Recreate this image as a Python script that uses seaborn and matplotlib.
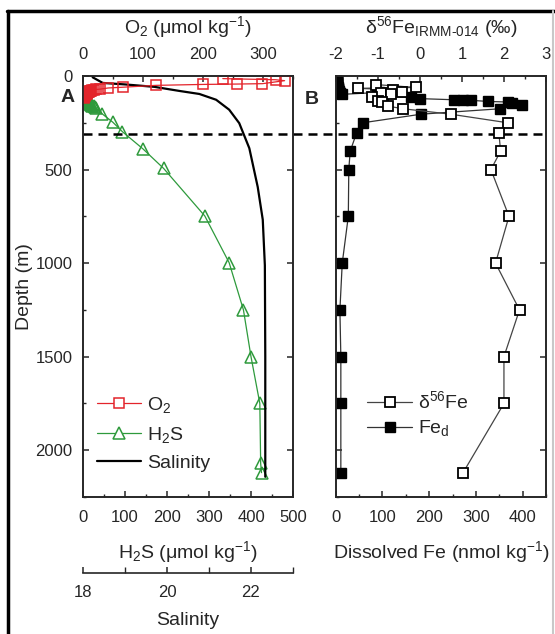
import matplotlib
matplotlib.use("Agg")
import matplotlib.pyplot as plt
import matplotlib.transforms as mtransforms
from matplotlib.lines import Line2D
from matplotlib.ticker import MultipleLocator
import seaborn as sns

# ---------------- data ----------------
o2_depth = [14, 20, 25, 41, 43, 45, 50, 60, 64, 70, 72, 74, 76, 78, 80, 82, 84, 86, 88, 90, 92, 94, 96, 98,
            100, 102, 104, 106, 108, 110, 112, 114, 116]
o2_vals = [233, 321, 336, 299, 257, 200, 122, 66, 42, 29, 22, 18, 15, 13, 12, 11, 10, 9, 8, 7, 7, 6, 5, 5,
           4, 4, 3, 3, 2, 2, 2, 1, 1]

h2s_depth = [100, 103, 106, 109, 112, 115, 118, 121, 124, 127, 130, 133, 136, 139, 142, 145, 148, 151, 155, 159,
             163, 168, 173, 203, 247, 298, 390, 494, 748, 998, 1250, 1500, 1750, 2070, 2120]
h2s_vals = [0.5, 1, 1.5, 2, 3, 4, 5, 6, 7, 8, 9, 10, 11, 12, 13, 14, 16, 18, 20, 22,
            25, 28, 32, 46, 71, 94, 143, 192, 290, 348, 382, 400, 421, 423, 425]

sal_depth = [7, 37, 45, 58, 80, 96, 127, 180, 252, 386, 593, 768, 1012, 1500, 2142]
sal_vals = [18.23, 18.47, 19.0, 19.7, 20.3, 20.77, 21.17, 21.48, 21.72, 21.96, 22.16, 22.28, 22.33, 22.34, 22.34]

fe_depth = [2, 7, 12, 17, 22, 27, 32, 37, 42, 47, 52, 57, 62, 67, 72, 77, 82, 87, 92, 98, 88, 95, 102, 108,
            114, 121, 127, 128, 130, 136, 139, 143, 154, 175, 204, 250, 302, 402, 500, 750, 1000, 1250, 1500,
            1750, 2123]
fe_vals = [2, 2, 2, 2, 2, 3, 3, 3, 3, 3, 3, 4, 4, 4, 4, 5, 6, 7, 9, 13, 92, 98, 88, 102,
           162, 181, 253, 272, 290, 326, 368, 378, 398, 352, 183, 58, 45, 31, 28, 27, 14, 9, 11,
           11, 11]

d56_depth = [46, 61, 66, 73, 86, 91, 96, 114, 136, 141, 161, 175, 204, 250, 304, 402, 500, 750, 1000,
             1250, 1500, 1750, 2123]
d56_vals = [-1.04, -0.10, -1.48, -0.63, -0.42, -0.92, -0.68, -1.14, -1.0, -0.9, -0.76, -0.40, 0.73, 2.09,
            1.88, 1.92, 1.69, 2.12, 1.80, 2.37, 2.0, 2.0, 1.02]

chemocline_depth = 310

depth_ticks = [0, 500, 1000, 1500, 2000]
h2s_ticks = [0, 100, 200, 300, 400, 500]
o2_ticks = [0, 100, 200, 300]
sal_ticks = [18, 20, 22]
fe_ticks = [0, 100, 200, 300, 400]
d56_ticks = [-2, -1, 0, 1, 2, 3]

# ---------------- style ----------------
sns.set_theme(style="ticks")
plt.rcParams["font.family"] = ["Liberation Sans", "DejaVu Sans"]
plt.rcParams["mathtext.fontset"] = "custom"
plt.rcParams["mathtext.rm"] = "Liberation Sans"
plt.rcParams["mathtext.it"] = "Liberation Sans:italic"
plt.rcParams["mathtext.bf"] = "Liberation Sans:bold"
plt.rcParams["axes.linewidth"] = 1.2
plt.rcParams["axes.unicode_minus"] = False

RED = "#e3242b"
GREEN = "#2e9a3c"
TICK_FS = 12
LAB_FS = 14

W, H = 555, 634
fig = plt.figure(figsize=(W / 100, H / 100), dpi=100)
fig.patch.set_facecolor("white")

axA = fig.add_axes([83 / W, 1 - 497 / H, 210 / W, 421 / H])
axB = fig.add_axes([335.7 / W, 1 - 497 / H, 210.3 / W, 421 / H])
axA_sal = axA.twiny()
axA_top = axA.twiny()
axB_top = axB.twiny()

for ax in (axA, axB, axA_sal, axA_top, axB_top):
    ax.set_facecolor("none")


def style_ticks(ax, axis, pad):
    ax.tick_params(axis=axis, which="both", direction="in", labelsize=TICK_FS, pad=pad)
    ax.tick_params(axis=axis, which="major", length=4.5, width=1.1)
    ax.tick_params(axis=axis, which="minor", length=2.5, width=1.0)


# ---------------- panel A ----------------
sns.lineplot(x=h2s_vals, y=h2s_depth, ax=axA, sort=False, estimator=None, color=GREEN, lw=0.9,
             marker="^", markersize=8, markerfacecolor="none", markeredgecolor=GREEN, markeredgewidth=1.1)
sns.lineplot(x=sal_vals, y=sal_depth, ax=axA_sal, sort=False, estimator=None, color="black", lw=1.6)
sns.lineplot(x=o2_vals, y=o2_depth, ax=axA_top, sort=False, estimator=None, color=RED, lw=0.9,
             marker="s", markersize=6.5, markerfacecolor="none", markeredgecolor=RED, markeredgewidth=1.1)

axA.set_xlim(0, 500)
axA.set_ylim(2250, 0)
axA_top.set_xlim(0, 350)
axA_sal.set_xlim(18, 23)

axA.set_xticks(h2s_ticks)
axA.xaxis.set_minor_locator(MultipleLocator(50))
axA.set_yticks(depth_ticks)
axA.yaxis.set_minor_locator(MultipleLocator(250))
axA.tick_params(top=False, right=True)
style_ticks(axA, "x", 9.5)
style_ticks(axA, "y", 7.5)
axA.set_xlabel("H$_2$S (μmol kg$^{-1}$)", fontsize=LAB_FS, labelpad=10)
axA.set_ylabel("Depth (m)", fontsize=LAB_FS, labelpad=2)

axA_top.set_xticks(o2_ticks)
axA_top.xaxis.set_minor_locator(MultipleLocator(50))
style_ticks(axA_top, "x", 10)
axA_top.set_xlabel("O$_2$ (μmol kg$^{-1}$)", fontsize=LAB_FS, labelpad=10)
axA_top.set_ylabel("")

axA_sal.xaxis.set_ticks_position("bottom")
axA_sal.xaxis.set_label_position("bottom")
axA_sal.spines["bottom"].set_position(("outward", 76 * 0.72))
for s in ("top", "left", "right"):
    axA_sal.spines[s].set_visible(False)
axA_sal.set_xticks(sal_ticks)
axA_sal.xaxis.set_minor_locator(MultipleLocator(1))
style_ticks(axA_sal, "x", 8.5)
axA_sal.tick_params(which="minor", length=4.5)
axA_sal.set_xlabel("Salinity", fontsize=LAB_FS, labelpad=9)
axA_sal.set_ylabel("")

handlesA = [
    Line2D([], [], color=RED, lw=0.9, marker="s", markersize=6.5, markerfacecolor="white",
           markeredgecolor=RED, markeredgewidth=1.1, label="O$_2$"),
    Line2D([], [], color=GREEN, lw=0.9, marker="^", markersize=8, markerfacecolor="white",
           markeredgecolor=GREEN, markeredgewidth=1.1, label="H$_2$S"),
    Line2D([], [], color="black", lw=1.6, label="Salinity"),
]
axA_top.legend(handles=handlesA, loc="upper left", bbox_to_anchor=(0.0, 0.275), frameon=False,
               fontsize=LAB_FS, handlelength=2.3, handletextpad=0.3, labelspacing=0.5, borderaxespad=0.3)

# ---------------- panel B ----------------
sns.lineplot(x=fe_vals, y=fe_depth, ax=axB, sort=False, estimator=None, color="#333333", lw=0.9,
             marker="s", markersize=7, markerfacecolor="black", markeredgecolor="black", markeredgewidth=1.0)
sns.lineplot(x=d56_vals, y=d56_depth, ax=axB_top, sort=False, estimator=None, color="#444444", lw=0.9,
             marker="s", markersize=7.5, markerfacecolor="white", markeredgecolor="black", markeredgewidth=1.3)

axB.set_xlim(0, 450)
axB.set_ylim(2250, 0)
axB_top.set_xlim(-2, 3)
axB.set_xticks(fe_ticks)
axB.xaxis.set_minor_locator(MultipleLocator(50))
axB.set_yticks(depth_ticks)
axB.yaxis.set_minor_locator(MultipleLocator(250))
axB.tick_params(top=False, right=True, labelleft=False)
style_ticks(axB, "x", 9.5)
style_ticks(axB, "y", 7.5)
axB.tick_params(labelleft=False)
axB.set_xlabel("Dissolved Fe (nmol kg$^{-1}$)", fontsize=LAB_FS, labelpad=10)
axB.set_ylabel("")

axB_top.set_xticks(d56_ticks)
axB_top.xaxis.set_minor_locator(MultipleLocator(0.5))
style_ticks(axB_top, "x", 10)
axB_top.set_xlabel("δ$^{56}$Fe$_{\\mathrm{IRMM\\text{-}014}}$ (‰)", fontsize=LAB_FS, labelpad=10)
axB_top.set_ylabel("")

handlesB = [
    Line2D([], [], color="#444444", lw=0.9, marker="s", markersize=7.5, markerfacecolor="white",
           markeredgecolor="black", markeredgewidth=1.3, label="δ$^{56}$Fe"),
    Line2D([], [], color="#333333", lw=0.9, marker="s", markersize=7, markerfacecolor="black",
           markeredgecolor="black", label="Fe$_\\mathrm{d}$"),
]
axB_top.legend(handles=handlesB, loc="upper left", bbox_to_anchor=(0.085, 0.285), frameon=False,
               fontsize=LAB_FS, handlelength=2.3, handletextpad=0.3, labelspacing=0.3, borderaxespad=0.3)

# chemocline dashed line across both panels
trans = mtransforms.blended_transform_factory(axA.transAxes, axA.transData)
axA.plot([0, (548 - 83) / 210], [chemocline_depth, chemocline_depth], transform=trans, clip_on=False,
         color="black", lw=1.8, ls=(0, (3.6, 2.4)), zorder=5)

# panel letters
fig.text(68 / W, 1 - 98 / H, "A", fontsize=LAB_FS, fontweight="bold", ha="center", va="center")
fig.text(312 / W, 1 - 100 / H, "B", fontsize=LAB_FS, fontweight="bold", ha="center", va="center")

# figure frame lines
fig.add_artist(Line2D([8 / W, 8 / W], [0, 1 - 11 / H], color="black", lw=2.5, transform=fig.transFigure))
fig.add_artist(Line2D([7 / W, 1], [1 - 11 / H, 1 - 11 / H], color="black", lw=2.5, transform=fig.transFigure))
fig.add_artist(Line2D([553 / W, 553 / W], [0, 1 - 11 / H], color="#c8c8c8", lw=1.5, transform=fig.transFigure))

fig.savefig("out.png", dpi=100, facecolor="white")
